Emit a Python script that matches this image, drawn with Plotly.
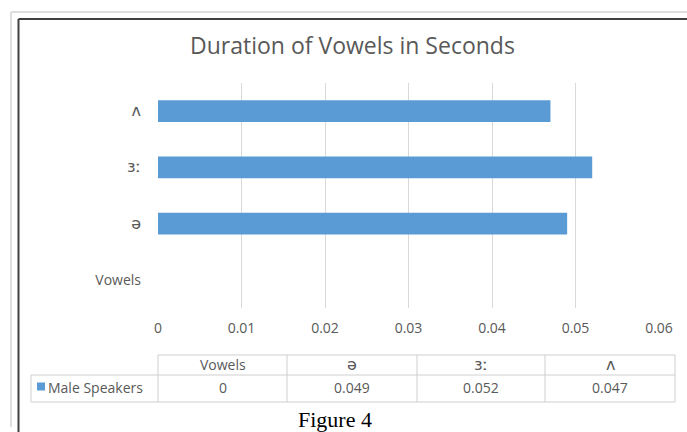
import plotly.graph_objects as go

# Chart data
categories = ["Vowels", "ə", "ɜː", "ʌ"]
male_speakers = [0, 0.049, 0.052, 0.047]
series_name = "Male Speakers"
x_ticks = [0, 0.01, 0.02, 0.03, 0.04, 0.05, 0.06]
title_text = "Duration of Vowels in Seconds"
caption_text = "Figure 4"

W, H = 687, 432
L, R, T, B = 158, 659, 83, 308  # plot area in pixels
BAR = "#5B9BD5"
TXT = "#595959"
GRID = "#d9d9d9"
FONT = "Open Sans, Calibri, Carlito, sans-serif"


def px(x):
    return (x - L) / (R - L)


def py(y):
    return (B - y) / (B - T)


def label(s):
    # phonetic symbols are set in a font with full IPA coverage, a bit larger
    if s.isascii():
        return s
    return f"<span style='font-family:DejaVu Sans;font-size:16px'>{s}</span>"


fig = go.Figure(
    go.Bar(
        x=male_speakers,
        y=categories,
        orientation="h",
        marker=dict(color=BAR, line=dict(width=0)),
        width=0.39,
        name=series_name,
        showlegend=False,
    )
)

shapes = []


def line(x0, y0, x1, y1, color, width):
    shapes.append(dict(type="line", xref="paper", yref="paper",
                       x0=px(x0), y0=py(y0), x1=px(x1), y1=py(y1),
                       line=dict(color=color, width=width), layer="above"))


# outer frames
line(11, 12, W + 5, 12, "#dedede", 2)
line(11, 12, 11, 427, "#dedede", 2)
line(18.5, 19, W + 5, 19, "#404040", 2)
line(18.5, 19, 18.5, H + 5, "#404040", 2)

# data table grid
tcols = [158, 287, 417, 545, 675]
trows = [355, 375, 402]
TGRID = "#cfcfcf"
line(tcols[0], trows[0], tcols[-1], trows[0], TGRID, 1)
line(31, trows[1], tcols[-1], trows[1], TGRID, 1)
line(31, trows[2], tcols[-1], trows[2], TGRID, 1)
line(31, trows[1], 31, trows[2], TGRID, 1)
for c in tcols:
    line(c, trows[0], c, trows[2], TGRID, 1)

# legend key in the table
shapes.append(dict(type="rect", xref="paper", yref="paper",
                   x0=px(37), x1=px(45), y0=py(382.5), y1=py(390.5),
                   fillcolor=BAR, line=dict(width=0), layer="above"))

annotations = [
    dict(text=title_text, xref="paper", yref="paper", x=px(352), y=py(45),
         showarrow=False, font=dict(family=FONT, size=23, color=TXT),
         xanchor="center", yanchor="middle"),
    dict(text=caption_text, xref="paper", yref="paper", x=px(335), y=py(419),
         showarrow=False, font=dict(family="Liberation Serif, Times New Roman, serif", size=22, color="#000000"),
         xanchor="center", yanchor="middle"),
    dict(text=series_name, xref="paper", yref="paper", x=px(46), y=py(387.5),
         showarrow=False, font=dict(family=FONT, size=14, color=TXT),
         xanchor="left", yanchor="middle"),
]

for i, (cat, val) in enumerate(zip(categories, male_speakers)):
    cx = (tcols[i] + tcols[i + 1]) / 2
    annotations.append(dict(text=label(cat), xref="paper", yref="paper", x=px(cx), y=py(364),
                            showarrow=False, font=dict(family=FONT, size=14, color=TXT),
                            xanchor="center", yanchor="middle"))
    annotations.append(dict(text=f"{val:g}", xref="paper", yref="paper", x=px(cx), y=py(387.5),
                            showarrow=False, font=dict(family=FONT, size=14, color=TXT),
                            xanchor="center", yanchor="middle"))

fig.update_layout(
    width=W, height=H,
    margin=dict(l=L, r=W - R, t=T, b=H - B, pad=0),
    paper_bgcolor="white", plot_bgcolor="white",
    font=dict(family=FONT, size=14, color=TXT),
    shapes=shapes, annotations=annotations,
    bargap=0.61,
    xaxis=dict(range=[0, 0.06], tickvals=x_ticks, ticktext=[f"{v:g}" for v in x_ticks],
               showgrid=True, gridcolor=GRID, gridwidth=1, zeroline=False,
               showline=False, ticks="", ticklabelstandoff=10,
               tickfont=dict(family=FONT, size=14, color=TXT), fixedrange=True),
    yaxis=dict(type="category", categoryorder="array", categoryarray=categories,
               tickvals=categories, ticktext=[label(c) for c in categories],
               showgrid=False, zeroline=False, showline=False, ticks="",
               ticklabelstandoff=16,
               tickfont=dict(family=FONT, size=14, color=TXT), fixedrange=True),
)

fig.write_html("out.html")
